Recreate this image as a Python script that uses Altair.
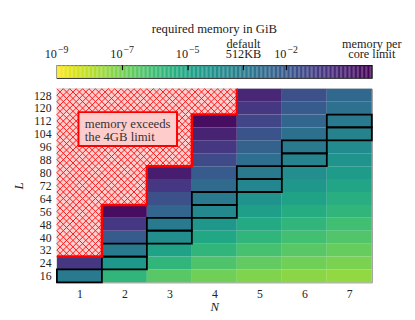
import altair as alt
import pandas as pd

FONT = "Liberation Serif"

N_vals = [1, 2, 3, 4, 5, 6, 7]
L_vals = [16, 24, 32, 40, 48, 56, 64, 72, 80, 88, 96, 104, 112, 120, 128]

# log10(required memory in GiB) per N column, L = 16 ... 128; None = exceeds the 4GB limit
logmem = {
    1: [-3.31, -0.90, None, None, None, None, None, None, None, None, None, None, None, None, None],
    2: [-5.72, -4.52, -3.31, -2.11, -0.90, 0.30, None, None, None, None, None, None, None, None, None],
    3: [-6.52, -5.72, -4.92, -4.11, -3.31, -2.51, -1.71, -0.90, -0.10, None, None, None, None, None, None],
    4: [-6.92, -6.32, -5.72, -5.12, -4.52, -3.91, -3.31, -2.71, -2.11, -1.51, -0.90, -0.30, 0.30, None, None],
    5: [-7.17, -6.68, -6.20, -5.72, -5.24, -4.76, -4.28, -3.79, -3.31, -2.83, -2.35, -1.87, -1.39, -0.90, -0.42],
    6: [-7.33, -6.92, -6.52, -6.12, -5.72, -5.32, -4.92, -4.52, -4.11, -3.71, -3.31, -2.91, -2.51, -2.11, -1.71],
    7: [-7.44, -7.10, -6.75, -6.41, -6.06, -5.72, -5.38, -5.03, -4.69, -4.34, -4.00, -3.66, -3.31, -2.97, -2.62],
}

# cells outlined in black
outlined_N = [1, 2, 2, 3, 3, 4, 4, 5, 5, 6, 6, 7, 7]
outlined_L = [16, 24, 32, 40, 48, 56, 64, 72, 80, 88, 96, 104, 112]

# colour bar (log10 GiB)
cb_min, cb_max = -9.0, 0.602          # 1e-9 GiB ... 4 GiB
cb_pow_vals = [-9, -7, -5, -2]
cb_pow_exps = ["−9", "−7", "−5", "−2"]
cb_named_vals = [-3.311, 0.602]
cb_named_lines = [["default", "512KB"], ["memory per", "core limit"]]
cb_inner_ticks = [-7, -5, -3.311, -2]
cb_title = "required memory in GiB"

note_lines = ["memory exceeds", "the 4GB limit"]
note_box = {"x": 0.98, "x2": 3.17, "y": 96.5, "y2": 117.5}
note_text_pos = {"x": 1.12, "y": 110.2}

# ---------------- tables ----------------
cells, exceed = [], []
for n in N_vals:
    for L, v in zip(L_vals, logmem[n]):
        row = {"x": n - 0.5, "x2": n + 0.5, "y": L - 4, "y2": L + 4, "N": n, "L": L}
        if v is None:
            exceed.append(row)
        else:
            row["logm"] = v
            cells.append(row)
cells_df = pd.DataFrame(cells)
exceed_df = pd.DataFrame(exceed)

hatch = []
for r in exceed:
    for k in range(7):
        for m in range(2):
            hatch.append({"x": r["x"] + (k + 0.5) / 7, "y": r["y"] + (m + 0.5) * 4})
hatch_df = pd.DataFrame(hatch)

out_df = pd.DataFrame({"x": [n - 0.5 for n in outlined_N], "x2": [n + 0.5 for n in outlined_N],
                       "y": [l - 4 for l in outlined_L], "y2": [l + 4 for l in outlined_L]})

# staircase boundary of exceeded region
first_ex = {}
for r in exceed:
    first_ex[r["N"]] = min(first_ex.get(r["N"], 999), r["L"])
stair = []
order = 0
for n in sorted(first_ex):
    yb = first_ex[n] - 4
    stair.append({"x": n - 0.5, "y": yb, "o": order}); order += 1
    stair.append({"x": n + 0.5, "y": yb, "o": order}); order += 1
last = max(first_ex)
stair.append({"x": last + 0.5, "y": L_vals[-1] + 4, "o": order})
stair_df = pd.DataFrame(stair)

color_scale = alt.Scale(scheme="viridis", reverse=True, domain=[cb_min, cb_max])
xs = alt.Scale(domain=[0.5, 7.5], nice=False, zero=False)
ys = alt.Scale(domain=[12, 132], nice=False, zero=False)

W, H = 322, 198

xaxis = alt.Axis(values=N_vals, title="N", ticks=False, grid=False, domain=False, labelOverlap=False,
                 labelPadding=6, titleFontStyle="italic", titlePadding=2, format="d")
yaxis = alt.Axis(values=L_vals, title="L", ticks=False, grid=False, domain=False, labelOverlap=False,
                 labelSeparation=0, labelPadding=6, titleFontStyle="italic", titlePadding=8, format="d")
X = alt.X("x:Q", scale=xs, axis=xaxis)
Y = alt.Y("y:Q", scale=ys, axis=yaxis)

base_cells = alt.Chart(cells_df).mark_rect().encode(
    x=X, x2="x2", y=Y, y2="y2",
    color=alt.Color("logm:Q", scale=color_scale, legend=None),
)
ex_rect = alt.Chart(exceed_df).mark_rect(color="#ffcfcf").encode(x=X, x2="x2", y=Y, y2="y2")
hatch_pts = alt.Chart(hatch_df).mark_point(
    shape="M-1,-1L1,1M-1,1L1,-1", size=44, filled=False, stroke="#ff0000", strokeWidth=0.9, opacity=1
).encode(x=X, y=Y)
outl = alt.Chart(out_df).mark_rect(fill=None, stroke="black", strokeWidth=1.8, filled=False).encode(
    x=X, x2="x2", y=Y, y2="y2")
stair_line = alt.Chart(stair_df).mark_line(color="#ff0000", strokeWidth=2.5).encode(
    x=X, y=Y, order="o:Q")
box = alt.Chart(pd.DataFrame([note_box])).mark_rect(fill="#ffcccc", stroke="#ff0000", strokeWidth=2).encode(
    x=X, x2="x2", y=Y, y2="y2")
txt = alt.Chart(pd.DataFrame([{**note_text_pos, "t": note_lines}])).mark_text(
    align="left", baseline="middle", font=FONT, fontSize=13, color="#333333", lineHeight=13
).encode(x=X, y=Y, text="t")

heat = alt.layer(base_cells, ex_rect, hatch_pts, outl, stair_line, box, txt).properties(
    width=W, height=H, view=alt.ViewBackground(stroke="#888888", strokeWidth=1))

# colour bar
nsteps = 240
step = (cb_max - cb_min) / nsteps
cb_df = pd.DataFrame({"lo": [cb_min + i * step for i in range(nsteps)]})
cb_df["hi"] = cb_df["lo"] + step * 1.02
cb_df["mid"] = cb_df["lo"] + step / 2
cbs = alt.Scale(domain=[cb_min, cb_max], nice=False, zero=False)

cbar = alt.Chart(cb_df).mark_rect().encode(
    x=alt.X("lo:Q", scale=cbs, axis=None), x2="hi",
    color=alt.Color("mid:Q", scale=color_scale, legend=None))
cticks = alt.Chart(pd.DataFrame({"t": cb_inner_ticks})).mark_rule(color="black", strokeWidth=1.2).encode(
    x=alt.X("t:Q", scale=cbs), y=alt.value(0), y2=alt.value(5))

pow_df = pd.DataFrame({"v": cb_pow_vals, "base": ["10"] * len(cb_pow_vals), "ex": cb_pow_exps})
pow_base = alt.Chart(pow_df).mark_text(
    align="right", baseline="alphabetic", font=FONT, fontSize=12.5, color="#222222", dx=0
).encode(x=alt.X("v:Q", scale=cbs), y=alt.value(-7), text="base:N")
pow_exp = alt.Chart(pow_df).mark_text(
    align="left", baseline="alphabetic", font=FONT, fontSize=10, color="#222222", dx=1
).encode(x=alt.X("v:Q", scale=cbs), y=alt.value(-12.5), text="ex:N")

named_rows = []
for v, lines in zip(cb_named_vals, cb_named_lines):
    for i, t in enumerate(lines):
        named_rows.append({"v": v, "t": t, "yy": -7 - 11 * (len(lines) - 1 - i)})
named_df = pd.DataFrame(named_rows)
named = alt.Chart(named_df).mark_text(
    align="center", baseline="alphabetic", font=FONT, fontSize=12.5, color="#222222"
).encode(x=alt.X("v:Q", scale=cbs), y=alt.Y("yy:Q", scale=None), text="t:N")

title_txt = alt.Chart(pd.DataFrame({"t": [cb_title]})).mark_text(
    align="center", baseline="alphabetic", font=FONT, fontSize=13, color="#222222"
).encode(x=alt.value(W / 2), y=alt.value(-33), text="t:N")

colorbar = alt.layer(cbar, cticks, pow_base, pow_exp, named, title_txt).properties(
    width=W, height=13, view=alt.ViewBackground(stroke="black", strokeWidth=1.2))

chart = alt.vconcat(colorbar, heat, spacing=4).resolve_scale(color="shared").configure(
    font=FONT, padding={"left": 4, "top": 11, "right": 5, "bottom": 5}
).configure_axis(
    labelFont=FONT, titleFont=FONT, labelFontSize=12, titleFontSize=13,
    labelColor="#222222", titleColor="#222222", titleFontWeight="normal", labelOverlap=False
)

chart.save("out.html", embed_options={"renderer": "svg", "actions": False})
